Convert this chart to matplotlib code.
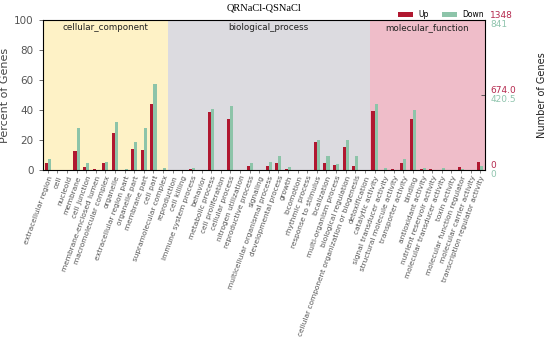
import matplotlib
matplotlib.use("Agg")
import matplotlib.pyplot as plt
import numpy as np

# GO terms, grouped by ontology
cc_terms = ["extracellular region", "cell", "nucleoid", "membrane", "cell junction",
            "membrane-enclosed lumen", "macromolecular complex", "organelle",
            "extracellular region part", "organelle part", "membrane part", "cell part",
            "supramolecular complex"]
bp_terms = ["reproduction", "cell killing", "immune system process", "behavior",
            "metabolic process", "cell proliferation", "cellular process",
            "nitrogen utilization", "reproductive process", "signaling",
            "multicellular organismal process", "developmental process", "growth",
            "locomotion", "rhythmic process", "response to stimulus", "localization",
            "multi-organism process", "biological regulation",
            "cellular component organization or biogenesis", "detoxification"]
mf_terms = ["catalytic activity", "signal transducer activity",
            "structural molecule activity", "transporter activity", "binding",
            "antioxidant activity", "nutrient reservoir activity",
            "molecular transducer activity", "toxin activity",
            "molecular function regulator", "molecular carrier activity",
            "transcription regulator activity"]

# percent of genes (Up / Down)
cc_up = [4.7, 0, 0, 12.9, 1.8, 0.7, 4.4, 24.4, 0.3, 13.8, 13.1, 43.8, 0]
cc_down = [7.3, 0, 0, 28.0, 4.4, 0.3, 5.1, 31.8, 0.7, 18.9, 28.2, 57.1, 1.3]
bp_up = [0, 0, 0.8, 0, 38.9, 0, 34.2, 0, 2.7, 0, 2.9, 4.7, 0.4, 0, 0, 18.7, 4.7,
         3.1, 15.1, 2.9, 0.2]
bp_down = [0, 0, 1.4, 0, 40.7, 0, 42.4, 0, 4.7, 0, 5.4, 9.3, 2.2, 0, 0.2, 20.0, 9.6,
           4.0, 19.8, 9.3, 0]
mf_up = [39.3, 0.2, 0.9, 4.4, 34.0, 0.9, 0.7, 0, 0, 2.0, 0, 5.1]
mf_down = [43.8, 1.6, 0, 7.1, 40.0, 1.3, 0, 1.6, 0, 0.7, 0, 2.9]

sections = ["cellular_component", "biological_process", "molecular_function"]
section_colors = ["#FEF2C6", "#DCDBE0", "#EFBDC9"]
up_total = 1348
down_total = 841

terms = cc_terms + bp_terms + mf_terms
up = np.array(cc_up + bp_up + mf_up)
down = np.array(cc_down + bp_down + mf_down)
sizes = [len(cc_terms), len(bp_terms), len(mf_terms)]

RED = "#B01830"
GREEN = "#8DC4A9"
GREY = "#555555"

fig = plt.figure(figsize=(5.5, 3.38), dpi=100)
ax = fig.add_axes([0.078, 0.497, 0.804, 0.444])

x = np.arange(len(terms))
start = -0.5
for name, n, col in zip(sections, sizes, section_colors):
    ax.axvspan(start, start + n, color=col, zorder=0, lw=0)
    ax.text(start + n / 2, 95, name, ha="center", va="center", fontsize=6.3, color="#222222")
    start += n

ax.bar(x - 0.16, up, width=0.32, color=RED, label="Up", zorder=2)
ax.bar(x + 0.16, down, width=0.32, color=GREEN, label="Down", zorder=2)

ax.set_xlim(-0.5, len(terms) - 0.5)
ax.set_ylim(0, 100)
ax.set_yticks([0, 20, 40, 60, 80, 100])
ax.set_xticks(x)
ax.set_xticklabels(terms, rotation=70, ha="right", rotation_mode="anchor",
                   fontsize=5.3, color=GREY)
ax.tick_params(axis="x", length=2, width=0.5, color=GREY, pad=1.5)
ax.tick_params(axis="y", length=3, width=0.6, labelsize=7.5, labelcolor=GREY, color=GREY)
ax.set_ylabel("Percent of Genes", fontsize=8, color="#444444", labelpad=3)
for sp in ax.spines.values():
    sp.set_linewidth(0.6)
    sp.set_color("#444444")

ax.set_title("QRNaCl-QSNaCl", fontsize=7.5, family="Liberation Serif", pad=7)

ax.legend(loc="lower right", bbox_to_anchor=(1.0, 0.995), ncol=2, frameon=False,
          fontsize=5.5, handlelength=2.0, handleheight=0.55, columnspacing=1.8,
          handletextpad=0.6, borderaxespad=0.1, borderpad=0.1)

# right axis: gene counts
ax2 = ax.twinx()
ax2.set_ylim(0, 100)
ax2.set_yticks([50])
ax2.set_yticklabels([""])
ax2.tick_params(axis="y", direction="in", length=3, width=0.6, color="#444444")
for frac in [1.0, 0.5, 0.0]:
    up_lbl = "%d" % up_total if frac == 1.0 else ("0" if frac == 0 else "%.1f" % (up_total * frac))
    dn_lbl = "%d" % down_total if frac == 1.0 else ("0" if frac == 0 else "%.1f" % (down_total * frac))
    ax2.text(1.012, frac, up_lbl, transform=ax2.transAxes, ha="left", va="bottom",
             fontsize=6.5, color="#B5294E")
    ax2.text(1.012, frac, dn_lbl, transform=ax2.transAxes, ha="left", va="top",
             fontsize=6.5, color="#8FC4AD")
fig.text(542 / 550, 1 - 95 / 338, "Number of Genes", rotation=90, ha="center",
         va="center", fontsize=7, color="#222222")

fig.savefig("out.png", dpi=100)
